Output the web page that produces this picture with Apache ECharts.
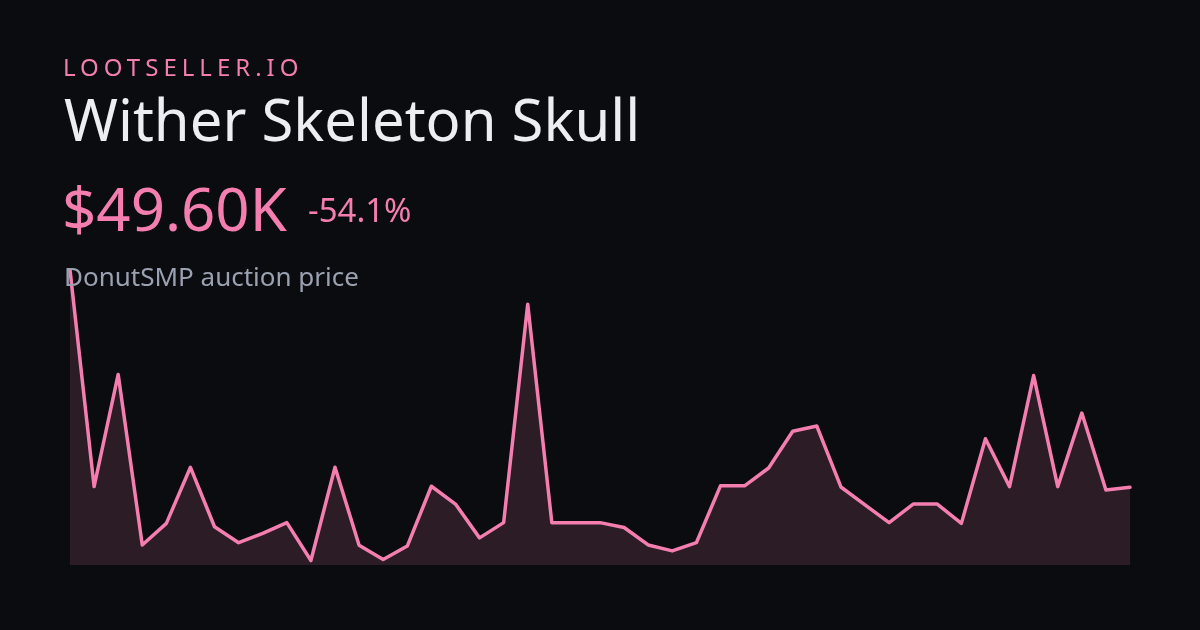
<!DOCTYPE html>
<html>
<head>
<meta charset="utf-8">
<script src="https://cdn.jsdelivr.net/npm/echarts@6/dist/echarts.min.js"></script>
<style>
  html, body { margin: 0; padding: 0; background: #0b0c10; }
  #wrap { position: relative; width: 1200px; height: 630px; overflow: hidden; background: #0b0c10; font-family: "Noto Sans", "Open Sans", sans-serif; }
  #chart { position: absolute; left: 0; top: 0; width: 1200px; height: 630px; }
  .t { position: absolute; white-space: nowrap; line-height: 1; z-index: 2; }
  #brand { left: 63px; top: 55px; font-size: 24px; letter-spacing: 5px; color: #f47eb0; }
  #title { left: 64px; top: 90px; font-size: 58px; color: #eceef2; }
  #price { left: 62px; top: 178px; font-size: 60px; color: #f47eb0; }
  #change { left: 308px; top: 193px; font-size: 33px; color: #f47eb0; }
  #sub { left: 64px; top: 263px; font-size: 26px; color: #9aa1b0; }
</style>
</head>
<body>
<div id="wrap">
  <div id="chart"></div>
  <div class="t" id="brand"></div>
  <div class="t" id="title"></div>
  <div class="t" id="price"></div>
  <div class="t" id="change"></div>
  <div class="t" id="sub"></div>
</div>
<script>
// Header texts
const brandText = "LOOTSELLER.IO";
const titleText = "Wither Skeleton Skull";
const priceText = "$49.60K";
const changeText = "-54.1%";
const subText = "DonutSMP auction price";

// Price history (thousands of $)
const days = ["1","2","3","4","5","6","7","8","9","10","11","12","13","14","15","16","17","18","19","20","21","22","23","24","25","26","27","28","29","30","31","32","33","34","35","36","37","38","39","40","41","42","43","44","45"];
const prices = [108.1, 49.8, 80.0, 34.1, 39.9, 55.0, 39.0, 34.7, 37.2, 40.1,
                29.9, 55.0, 34.0, 30.2, 33.8, 49.9, 45.1, 36.0, 40.1, 98.9,
                40.1, 40.1, 40.1, 38.8, 34.1, 32.5, 34.7, 50.0, 50.0, 54.8,
                64.7, 66.1, 49.7, 44.9, 40.1, 45.1, 45.1, 39.9, 62.7, 49.8,
                79.7, 49.8, 69.6, 48.9, 49.6];
const yMin = 28.7;
const yMax = 108.1;

document.getElementById('brand').textContent = brandText;
document.getElementById('title').textContent = titleText;
document.getElementById('price').textContent = priceText;
document.getElementById('change').textContent = changeText;
document.getElementById('sub').textContent = subText;

const chart = echarts.init(document.getElementById('chart'), null, { renderer: 'canvas' });
chart.setOption({
  backgroundColor: 'transparent',
  animation: false,
  grid: { left: 70, right: 70, top: 270, bottom: 65 },
  xAxis: { type: 'category', data: days, boundaryGap: false, show: false },
  yAxis: { type: 'value', min: yMin, max: yMax, show: false },
  series: [{
    type: 'line',
    data: prices,
    clip: false,
    symbol: 'none',
    lineStyle: { color: '#f47eb0', width: 3.5, join: 'round', cap: 'round' },
    areaStyle: { color: 'rgba(244,126,176,0.2)', origin: 'start' }
  }]
});
</script>
</body>
</html>
